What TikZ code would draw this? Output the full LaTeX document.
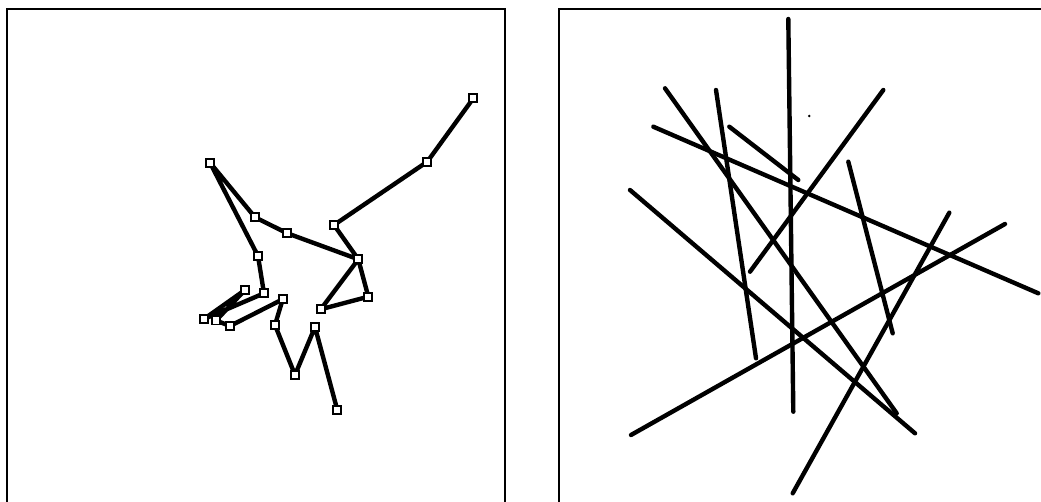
\documentclass[tikz,border=0pt]{standalone}
\begin{document}
\begin{tikzpicture}[x=1pt,y=-1pt,
  frame/.style={line width=1.8pt},
  walk/.style={line width=4.4pt,line join=round,line cap=round},
  vtx/.style={draw,fill=white,line width=1.8pt,minimum size=8pt,inner sep=0pt,rectangle},
  seg/.style={line width=4.4pt,line cap=round}]
\useasboundingbox (0,0) rectangle (1041,502);
% frames
\draw[frame] (7,506) -- (7,9) -- (505,9) -- (505,506);
\draw[frame] (559,506) -- (559,9) -- (1045,9);
% left panel: polyline
\coordinate (A) at (473.3,98.3);
\coordinate (B) at (427.3,161.7);
\coordinate (C) at (334,225);
\coordinate (D) at (358.3,259.3);
\coordinate (E) at (368.3,296.7);
\coordinate (F) at (320.7,309.3);
\coordinate (G) at (287.3,233.3);
\coordinate (H) at (255,217.3);
\coordinate (I) at (210,162.7);
\coordinate (J) at (258,256);
\coordinate (K) at (264,293.3);
\coordinate (L) at (245,290);
\coordinate (M) at (204,319);
\coordinate (N) at (216,320.5);
\coordinate (O) at (230,326);
\coordinate (P) at (282.7,299.3);
\coordinate (Q) at (275,325);
\coordinate (R) at (295,375);
\coordinate (S) at (315,327);
\coordinate (T) at (337.3,410);
\draw[walk] (A) -- (B) -- (C) -- (D) -- (E) -- (F) -- (D) -- (G) -- (H) -- (I) -- (J) -- (K) -- (M) -- (L) -- (N) -- (O) -- (P) -- (Q) -- (R) -- (S) -- (T);
\foreach \p in {A,B,C,D,E,F,G,H,I,J,K,L,M,N,O,P,Q,R,S,T}
  \node[vtx] (v\p) at (\p) {};
% right panel: segments
\coordinate (a1) at (788.3,19); \coordinate (a2) at (793.3,411.7);
\coordinate (b1) at (665,88.3); \coordinate (b2) at (896.7,413.3);
\coordinate (c1) at (716,90);   \coordinate (c2) at (756,358.3);
\coordinate (d1) at (653.3,126.7); \coordinate (d2) at (1038.3,293.3);
\coordinate (e1) at (729.3,126.7); \coordinate (e2) at (798.3,180);
\coordinate (f1) at (883.3,90);  \coordinate (f2) at (750,271.7);
\coordinate (g1) at (630,190);   \coordinate (g2) at (915,433.3);
\coordinate (h1) at (848.3,161.7); \coordinate (h2) at (892.7,333.3);
\coordinate (i1) at (949.3,212.7); \coordinate (i2) at (792.7,493.3);
\coordinate (j1) at (1005,224);  \coordinate (j2) at (631,435);
\foreach \s in {a,b,c,d,e,f,g,h,i,j}
  \draw[seg] (\s1) -- (\s2);
\fill (809.3,116) circle (1.4pt);
\end{tikzpicture}
\end{document}
